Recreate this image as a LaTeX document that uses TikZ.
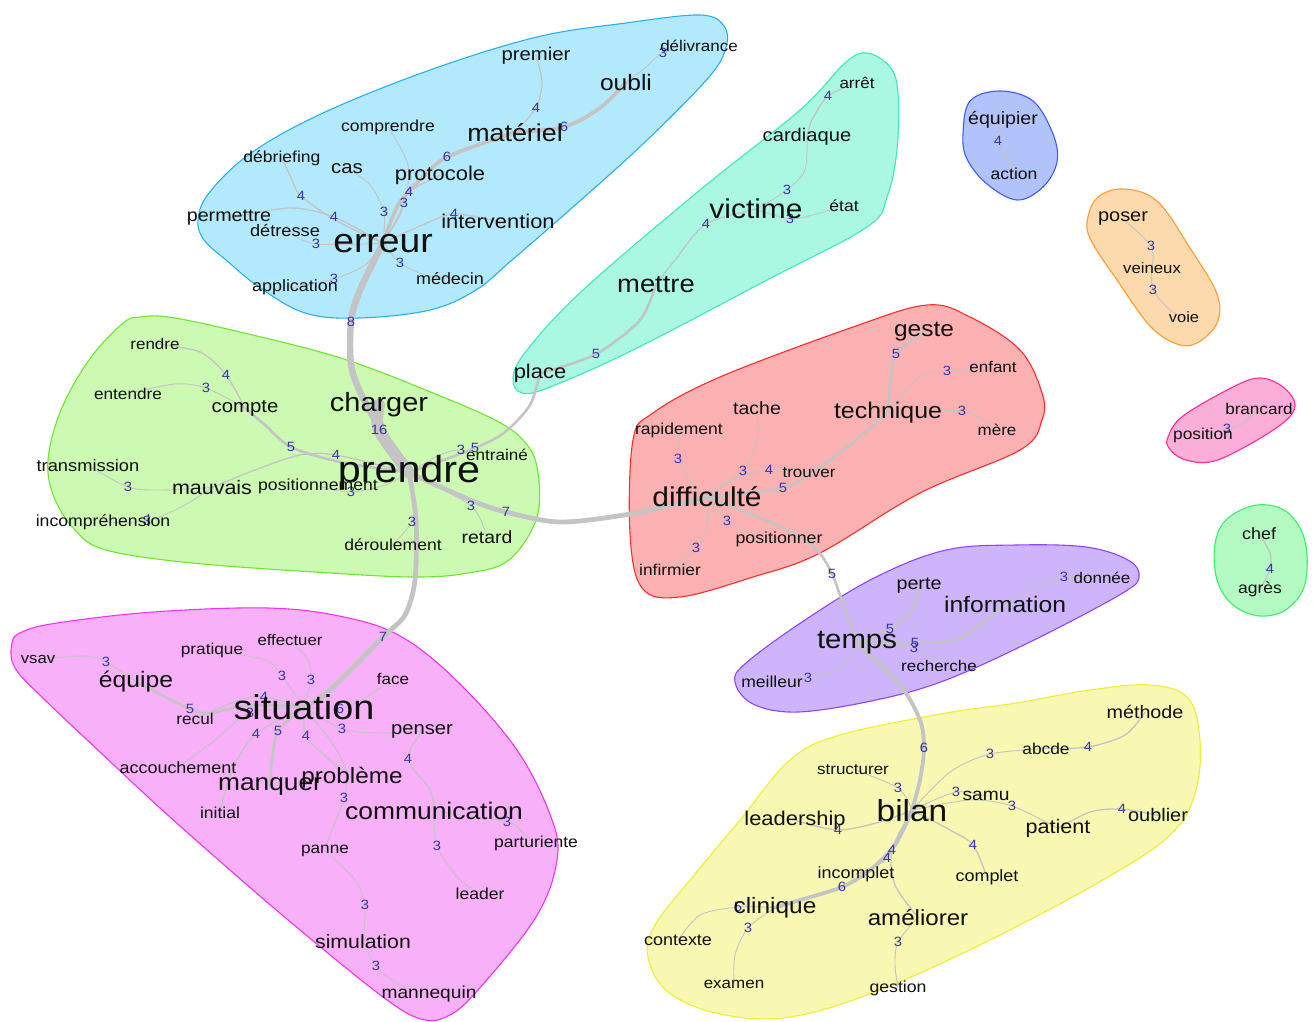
\documentclass[tikz,border=0pt]{standalone}
\usepackage{fontspec}
\newfontfamily\wfont[FakeStretch=1.1]{Liberation Sans}
\definecolor{txt}{HTML}{101010}
\definecolor{numblue}{HTML}{3535A5}
\definecolor{edgegray}{HTML}{C4C4C4}
\definecolor{bluef}{HTML}{B3E9FC}\definecolor{bluel}{HTML}{29AEF0}
\definecolor{tealf}{HTML}{ABF8E2}\definecolor{teall}{HTML}{3CE8C0}
\definecolor{greenf}{HTML}{CDFAB3}\definecolor{greenl}{HTML}{6CE62E}
\definecolor{redf}{HTML}{FBB1B1}\definecolor{redl}{HTML}{FF2B2B}
\definecolor{purpf}{HTML}{CDB4FB}\definecolor{purpl}{HTML}{8C45FF}
\definecolor{yelf}{HTML}{F8F8B2}\definecolor{yell}{HTML}{EEEE33}
\definecolor{magf}{HTML}{F8B0F9}\definecolor{magl}{HTML}{EE33EE}
\definecolor{eqf}{HTML}{B2C2FB}\definecolor{eql}{HTML}{3B5BFF}
\definecolor{oraf}{HTML}{FCDAAE}\definecolor{oral}{HTML}{FF9C2B}
\definecolor{pinkf}{HTML}{FBAFD8}\definecolor{pinkl}{HTML}{FF2A96}
\definecolor{cheff}{HTML}{B3FBC3}\definecolor{chefl}{HTML}{3AEE66}
\pgfdeclarelayer{hulls}\pgfdeclarelayer{edges}
\pgfsetlayers{hulls,edges,main}
\begin{document}
\begin{tikzpicture}[x=1bp,y=-1bp,
  w/.style={font=\wfont\fontsize{#1}{#1}\selectfont, inner sep=0pt, anchor=base, yshift={-0.33*#1}, text=txt},
  num/.style={font=\wfont\fontsize{13.5}{13.5}\selectfont, inner sep=0pt, text=numblue},
  lnk/.style={draw=edgegray, line width=#1, line cap=round, line join=round},
  hull/.style 2 args={fill=#1, draw=#2, line width=1.1}]
\useasboundingbox (0,0) rectangle (1314,1021);

% ---------------- words ----------------
% blue cluster
\node[w=18.5] (premier) at (536,54) {premier};
\node[w=15.5] (delivrance) at (699,46) {délivrance};
\node[w=22.4] (oubli) at (626,83) {oubli};
\node[w=24.5] (materiel) at (515,133) {matériel};
\node[w=16] (comprendre) at (388,126) {comprendre};
\node[w=16] (debriefing) at (282,157) {débriefing};
\node[w=18.6] (cas) at (347,167) {cas};
\node[w=20] (protocole) at (440,174) {protocole};
\node[w=18] (permettre) at (229,216) {permettre};
\node[w=20] (intervention) at (498,222) {intervention};
\node[w=16.6] (detresse) at (285,231) {détresse};
\node[w=34] (erreur) at (383,241) {erreur};
\node[w=16.4] (medecin) at (450,279) {médecin};
\node[w=16.4] (application) at (295,286) {application};
% green cluster
\node[w=15.5] (rendre) at (155,344) {rendre};
\node[w=15.7] (entendre) at (128,394) {entendre};
\node[w=18.6] (compte) at (245,406) {compte};
\node[w=26.4] (charger) at (379,403) {charger};
\node[w=16.7] (transmission) at (88,466) {transmission};
\node[w=19.6] (mauvais) at (212,488) {mauvais};
\node[w=16.1] (positionnement) at (318,485) {positionnement};
\node[w=37.7] (prendre) at (409,470) {prendre};
\node[w=15.6] (entraine) at (497,455) {entrainé};
\node[w=16.1] (incomprehension) at (103,521) {incompréhension};
\node[w=17.7] (retard) at (487,538) {retard};
\node[w=16] (deroulement) at (393,545) {déroulement};
% teal cluster
\node[w=15.5] (arret) at (857,83) {arrêt};
\node[w=18.4] (cardiaque) at (807,135) {cardiaque};
\node[w=27.3] (victime) at (756,210) {victime};
\node[w=16] (etat) at (844,206) {état};
\node[w=25] (mettre) at (656,284) {mettre};
\node[w=20] (place) at (540,372) {place};
% red cluster
\node[w=22.3] (geste) at (924,329) {geste};
\node[w=15.5] (enfant) at (993,367) {enfant};
\node[w=17.8] (tache) at (757,409) {tache};
\node[w=22.7] (technique) at (888,411) {technique};
\node[w=15.5] (mere) at (997,430) {mère};
\node[w=16] (rapidement) at (679,429) {rapidement};
\node[w=15.5] (trouver) at (809,472) {trouver};
\node[w=27.3] (difficulte) at (707,498) {difficulté};
\node[w=16.2] (positionner) at (779,538) {positionner};
\node[w=15.8] (infirmier) at (670,570) {infirmier};
% purple cluster
\node[w=18] (perte) at (919,584) {perte};
\node[w=15.5] (donnee) at (1102,578) {donnée};
\node[w=22.5] (information) at (1005,605) {information};
\node[w=26.8] (temps) at (857,640) {temps};
\node[w=15.5] (recherche) at (939,666) {recherche};
\node[w=16] (meilleur) at (772,682) {meilleur};
% yellow cluster
\node[w=18] (methode) at (1145,713) {méthode};
\node[w=15.8] (abcde) at (1046,749) {abcde};
\node[w=15.5] (structurer) at (853,769) {structurer};
\node[w=17.5] (samu) at (986,795) {samu};
\node[w=30.5] (bilan) at (912,811) {bilan};
\node[w=20] (leadership) at (795,819) {leadership};
\node[w=19.7] (patient) at (1058,827) {patient};
\node[w=18.2] (oublier) at (1158,816) {oublier};
\node[w=16.4] (incomplet) at (856,873) {incomplet};
\node[w=16.4] (complet) at (987,876) {complet};
\node[w=22.3] (clinique) at (775,906) {clinique};
\node[w=22] (ameliorer) at (918,918) {améliorer};
\node[w=16.4] (contexte) at (678,940) {contexte};
\node[w=15.5] (examen) at (734,983) {examen};
\node[w=16.1] (gestion) at (898,987) {gestion};
% magenta cluster
\node[w=15.2] (vsav) at (38,658) {vsav};
\node[w=15.7] (pratique) at (212,649) {pratique};
\node[w=15.3] (effectuer) at (290,640) {effectuer};
\node[w=22.5] (equipe) at (136,680) {équipe};
\node[w=15.5] (face) at (393,679) {face};
\node[w=15.7] (recul) at (195,719) {recul};
\node[w=34.5] (situation) at (304,708) {situation};
\node[w=18.5] (penser) at (422,728) {penser};
\node[w=16.4] (accouchement) at (178,768) {accouchement};
\node[w=24] (manquer) at (270,783) {manquer};
\node[w=22.2] (probleme) at (352,776) {problème};
\node[w=24.1] (communication) at (434,812) {communication};
\node[w=16] (initial) at (220,813) {initial};
\node[w=16] (parturiente) at (536,842) {parturiente};
\node[w=15.7] (panne) at (325,848) {panne};
\node[w=16] (leader) at (480,894) {leader};
\node[w=19.4] (simulation) at (363,942) {simulation};
\node[w=17.5] (mannequin) at (429,993) {mannequin};
% small clusters
\node[w=17.9] (equipier) at (1003,119) {équipier};
\node[w=16] (action) at (1014,174) {action};
\node[w=18.2] (poser) at (1123,216) {poser};
\node[w=15.3] (veineux) at (1152,268) {veineux};
\node[w=15] (voie) at (1184,318) {voie};
\node[w=15.6] (brancard) at (1259,409) {brancard};
\node[w=15.8] (position) at (1203,434) {position};
\node[w=16.4] (chef) at (1259,534) {chef};
\node[w=16] (agres) at (1260,588) {agrès};

% ---------------- cluster hulls ----------------
\begin{pgfonlayer}{hulls}
\draw[hull={bluef}{bluel}] plot[smooth cycle, tension=0.6] coordinates {
 (198,220) (209,193) (251,153) (323,113) (430,70) (537,37) (626,23) (700,15) (724,26) (726,47) (709,77) (644,143) (573,207) (512,260) (476,290) (430,310) (359,318) (305,313) (259,287) (226,260) (204,240)};
\draw[hull={tealf}{teall}] plot[smooth cycle, tension=0.6] coordinates {
 (867,53) (890,67) (898,93) (897,150) (887,197) (867,227) (767,280) (633,350) (550,387) (522,393) (513,378) (527,350) (583,290) (700,190) (800,110) (845,63)};
\draw[hull={greenf}{greenl}] plot[smooth cycle, tension=0.6] coordinates {
 (140,317) (175,318) (261,337) (347,360) (433,393) (495,420) (523,440) (537,467) (537,517) (509,560) (468,573) (416,577) (330,573) (192,563) (106,550) (75,530) (54,497) (48,460) (61,410) (89,360) (122,324)};
\draw[hull={redf}{redl}] plot[smooth cycle, tension=0.6] coordinates {
 (927,305) (970,317) (1020,350) (1042,393) (1042,420) (1020,450) (920,493) (820,553) (753,577) (680,597) (642,588) (630,533) (633,440) (653,413) (720,377) (853,327)};
\draw[hull={purpf}{purpl}] plot[smooth cycle, tension=0.6] coordinates {
 (1128,560) (1139,577) (1121,594) (1034,640) (946,680) (876,700) (798,712) (753,704) (735,682) (746,663) (805,620) (876,577) (946,550) (1016,545) (1086,547)};
\draw[hull={yelf}{yell}] plot[smooth cycle, tension=0.6] coordinates {
 (1150,685) (1188,698) (1200,740) (1196,790) (1175,830) (1120,870) (1000,935) (880,990) (790,1017) (720,1014) (668,992) (648,957) (655,925) (690,880) (740,820) (790,760) (840,735) (946,713) (1016,703) (1090,690)};
\draw[hull={magf}{magl}] plot[smooth cycle, tension=0.6] coordinates {
 (12,643) (22,632) (57,623) (153,612) (268,608) (344,617) (402,637) (459,683) (517,750) (551,817) (557,860) (536,917) (478,990) (448,1016) (421,1019) (383,997) (300,930) (230,870) (160,808) (100,752) (45,700) (15,668)};
\draw[hull={eqf}{eql}] plot[smooth cycle, tension=0.6] coordinates {
 (963,134) (970,101) (1000,91) (1033,101) (1053,134) (1057,162) (1043,187) (1017,200) (987,184) (967,159)};
\draw[hull={oraf}{oral}] plot[smooth cycle, tension=0.6] coordinates {
 (1087,223) (1097,198) (1123,189) (1157,201) (1190,248) (1217,294) (1217,323) (1197,343) (1177,344) (1150,326) (1117,280) (1093,244)};
\draw[hull={pinkf}{pinkl}] plot[smooth cycle, tension=0.6] coordinates {
 (1168,437) (1183,416) (1233,387) (1260,378) (1283,387) (1295,405) (1283,423) (1243,448) (1210,462) (1183,459) (1169,448)};
\draw[hull={cheff}{chefl}] plot[smooth cycle, tension=0.6] coordinates {
 (1215,544) (1227,519) (1257,505) (1287,512) (1305,541) (1305,584) (1287,609) (1260,616) (1233,605) (1217,580)};
\end{pgfonlayer}

% ---------------- connectors and weights ----------------
\begin{pgfonlayer}{edges}
% blue
\draw[lnk=1.3] plot[smooth] coordinates {(premier.center) (542,82) (536,108) (materiel.center)};
\draw[lnk=3.8] plot[smooth] coordinates {(materiel.center) (564,127) (600,108) (oubli.center)};
\draw[lnk=0.9] plot[smooth] coordinates {(delivrance.center) (663,53) (645,68) (oubli.center)};
\draw[lnk=3.8] plot[smooth] coordinates {(erreur.center) (398,205) (420,180) (447,157) (materiel.center)};
\draw[lnk=1.3] plot[smooth] coordinates {(erreur.center) (400,215) (409,192) (protocole.center)};
\draw[lnk=0.9] plot[smooth] coordinates {(erreur.center) (404,203) (408,165) (comprendre.center)};
\draw[lnk=0.9] plot[smooth] coordinates {(erreur.center) (384,212) (370,185) (cas.center)};
\draw[lnk=1.3] plot[smooth] coordinates {(debriefing.center) (292,180) (301,196) (335,220) (erreur.center)};
\draw[lnk=1.3] plot[smooth] coordinates {(permettre.center) (290,208) (334,217) (erreur.center)};
\draw[lnk=0.9] plot[smooth] coordinates {(detresse.center) (316,244) (erreur.center)};
\draw[lnk=1.3] plot[smooth] coordinates {(erreur.center) (420,226) (454,214) (intervention.center)};
\draw[lnk=0.9] plot[smooth] coordinates {(erreur.center) (400,263) (425,275) (medecin.center)};
\draw[lnk=0.9] plot[smooth] coordinates {(erreur.center) (365,265) (334,279) (application.center)};
\draw[lnk=6.5] plot[smooth] coordinates {(erreur.center) (360,290) (351,322) (352,370) (372,415) (prendre.center)};
% green
\draw[lnk=12] plot[smooth] coordinates {(charger.center) (379,430) (prendre.center)};
\draw[lnk=1.3] plot[smooth] coordinates {(rendre.center) (200,352) (226,375) (compte.center)};
\draw[lnk=0.9] plot[smooth] coordinates {(entendre.center) (175,384) (206,388) (compte.center)};
\draw[lnk=2.6] plot[smooth] coordinates {(compte.center) (265,425) (291,447) (340,462) (prendre.center)};
\draw[lnk=1.3] plot[smooth] coordinates {(mauvais.center) (255,470) (300,455) (336,455) (prendre.center)};
\draw[lnk=0.9] plot[smooth] coordinates {(transmission.center) (128,487) (160,490) (mauvais.center)};
\draw[lnk=0.9] plot[smooth] coordinates {(incomprehension.center) (147,521) (185,505) (mauvais.center)};
\draw[lnk=0.9] plot[smooth] coordinates {(positionnement.center) (351,492) (385,485) (prendre.center)};
\draw[lnk=0.9] plot[smooth] coordinates {(prendre.center) (440,455) (461,450) (entraine.center)};
\draw[lnk=2.6] plot[smooth] coordinates {(prendre.center) (475,448) (505,432) (530,405) (place.center)};
\draw[lnk=0.9] plot[smooth] coordinates {(prendre.center) (471,506) (retard.center)};
\draw[lnk=4.8] plot[smooth] coordinates {(prendre.center) (470,500) (506,512) (560,522) (630,514) (difficulte.center)};
\draw[lnk=0.9] plot[smooth] coordinates {(prendre.center) (415,500) (412,522) (deroulement.center)};
\draw[lnk=4.8] plot[smooth] coordinates {(prendre.center) (416,520) (415,580) (405,615) (383,637) (330,690) (situation.center)};
% teal
\draw[lnk=1.3] plot[smooth] coordinates {(arret.center) (828,96) (812,120) (cardiaque.center)};
\draw[lnk=0.9] plot[smooth] coordinates {(cardiaque.center) (805,170) (787,190) (victime.center)};
\draw[lnk=0.9] plot[smooth] coordinates {(victime.center) (790,219) (820,213) (etat.center)};
\draw[lnk=1.3] plot[smooth] coordinates {(victime.center) (706,224) (675,260) (mettre.center)};
\draw[lnk=2.6] plot[smooth] coordinates {(mettre.center) (640,320) (596,354) (place.center)};
% red
\draw[lnk=2.6] plot[smooth] coordinates {(geste.center) (896,354) (890,385) (technique.center)};
\draw[lnk=0.9] plot[smooth] coordinates {(technique.center) (920,377) (947,371) (enfant.center)};
\draw[lnk=0.9] plot[smooth] coordinates {(technique.center) (962,411) (mere.center)};
\draw[lnk=2.6] plot[smooth] coordinates {(technique.center) (850,445) (815,470) (783,488) (difficulte.center)};
\draw[lnk=1.3] plot[smooth] coordinates {(trouver.center) (769,470) (735,478) (difficulte.center)};
\draw[lnk=0.9] plot[smooth] coordinates {(tache.center) (757,440) (743,471) (difficulte.center)};
\draw[lnk=0.9] plot[smooth] coordinates {(rapidement.center) (678,459) (690,480) (difficulte.center)};
\draw[lnk=0.9] plot[smooth] coordinates {(difficulte.center) (727,521) (750,533) (positionner.center)};
\draw[lnk=0.9] plot[smooth] coordinates {(difficulte.center) (708,525) (696,548) (infirmier.center)};
\draw[lnk=2.6] plot[smooth] coordinates {(difficulte.center) (777,525) (815,548) (832,574) (845,610) (temps.center)};
% purple
\draw[lnk=2.6] plot[smooth] coordinates {(temps.center) (890,629) (912,610) (perte.center)};
\draw[lnk=2.6] plot[smooth] coordinates {(temps.center) (915,643) (960,638) (information.center)};
\draw[lnk=0.9] plot[smooth] coordinates {(information.center) (1030,590) (1064,577) (donnee.center)};
\draw[lnk=0.9] plot[smooth] coordinates {(temps.center) (914,648) (recherche.center)};
\draw[lnk=0.9] plot[smooth] coordinates {(temps.center) (840,668) (808,678) (meilleur.center)};
\draw[lnk=3.8] plot[smooth] coordinates {(temps.center) (900,685) (920,720) (924,748) (920,780) (bilan.center)};
% yellow
\draw[lnk=0.9] plot[smooth] coordinates {(bilan.center) (950,772) (990,754) (abcde.center)};
\draw[lnk=1.3] plot[smooth] coordinates {(abcde.center) (1088,747) (1125,735) (methode.center)};
\draw[lnk=0.9] plot[smooth] coordinates {(structurer.center) (898,788) (bilan.center)};
\draw[lnk=0.9] plot[smooth] coordinates {(bilan.center) (956,792) (samu.center)};
\draw[lnk=0.9] plot[smooth] coordinates {(bilan.center) (970,800) (1012,806) (patient.center)};
\draw[lnk=1.3] plot[smooth] coordinates {(patient.center) (1090,812) (1122,809) (oublier.center)};
\draw[lnk=1.3] plot[smooth] coordinates {(bilan.center) (880,822) (838,830) (leadership.center)};
\draw[lnk=1.3] plot[smooth] coordinates {(bilan.center) (950,830) (973,845) (complet.center)};
\draw[lnk=1.3] plot[smooth] coordinates {(bilan.center) (892,850) (895,885) (ameliorer.center)};
\draw[lnk=1.3] plot[smooth] coordinates {(bilan.center) (887,858) (incomplet.center)};
\draw[lnk=3.8] plot[smooth] coordinates {(bilan.center) (895,845) (870,870) (842,887) (800,900) (clinique.center)};
\draw[lnk=0.9] plot[smooth] coordinates {(clinique.center) (738,907) (700,915) (contexte.center)};
\draw[lnk=0.9] plot[smooth] coordinates {(clinique.center) (748,928) (735,955) (examen.center)};
\draw[lnk=0.9] plot[smooth] coordinates {(ameliorer.center) (898,942) (895,965) (gestion.center)};
% magenta
\draw[lnk=0.9] plot[smooth] coordinates {(vsav.center) (85,656) (106,662) (equipe.center)};
\draw[lnk=2.6] plot[smooth] coordinates {(equipe.center) (190,709) (210,713) (250,705) (situation.center)};
\draw[lnk=0.9] plot[smooth] coordinates {(pratique.center) (265,660) (282,676) (situation.center)};
\draw[lnk=0.9] plot[smooth] coordinates {(effectuer.center) (308,660) (311,680) (situation.center)};
\draw[lnk=0.9] plot[smooth] coordinates {(face.center) (365,698) (340,709) (situation.center)};
\draw[lnk=1.3] plot[smooth] coordinates {(situation.center) (264,697) (240,700) (recul.center)};
\draw[lnk=0.9] plot[smooth] coordinates {(situation.center) (250,713) (215,740) (accouchement.center)};
\draw[lnk=1.3] plot[smooth] coordinates {(situation.center) (256,734) (232,770) (initial.center)};
\draw[lnk=2.6] plot[smooth] coordinates {(situation.center) (278,731) (272,760) (manquer.center)};
\draw[lnk=1.3] plot[smooth] coordinates {(situation.center) (306,736) (330,760) (probleme.center)};
\draw[lnk=0.9] plot[smooth] coordinates {(situation.center) (342,729) (380,733) (penser.center)};
\draw[lnk=0.9] plot[smooth] coordinates {(situation.center) (330,740) (346,770) (344,798) (330,835) (panne.center)};
\draw[lnk=1.3] plot[smooth] coordinates {(penser.center) (408,759) (430,790) (communication.center)};
\draw[lnk=0.9] plot[smooth] coordinates {(communication.center) (437,846) (458,878) (leader.center)};
\draw[lnk=0.9] plot[smooth] coordinates {(communication.center) (507,822) (525,835) (parturiente.center)};
\draw[lnk=0.9] plot[smooth] coordinates {(panne.center) (355,880) (365,905) (simulation.center)};
\draw[lnk=0.9] plot[smooth] coordinates {(simulation.center) (376,966) (400,985) (mannequin.center)};
% small clusters
\draw[lnk=1.3] plot[smooth] coordinates {(equipier.center) (998,141) (1010,162) (action.center)};
\draw[lnk=0.9] plot[smooth] coordinates {(poser.center) (1151,246) (veineux.center)};
\draw[lnk=0.9] plot[smooth] coordinates {(veineux.center) (1153,290) (1170,310) (voie.center)};
\draw[lnk=0.9] plot[smooth] coordinates {(brancard.center) (1242,424) (1227,429) (position.center)};
\draw[lnk=1.3] plot[smooth] coordinates {(chef.center) (1270,553) (1270,569) (agres.center)};

% weights
\foreach \x/\y/\t [count=\i] in {
 536/108/4, 564/127/6, 663/53/3, 447/157/6, 409/192/4, 404/203/3, 384/212/3, 301/196/4, 334/217/4, 316/244/3, 454/214/4, 400/263/3, 334/279/3, 351/322/8,
 379/430/16, 226/375/4, 206/388/3, 291/447/5, 336/455/4, 128/487/3, 147/521/3, 351/492/3, 461/450/3, 475/448/5, 471/506/3, 506/512/7, 412/522/3, 383/637/7,
 828/96/4, 787/190/3, 790/219/3, 706/224/4, 596/354/5,
 896/354/5, 947/371/3, 962/411/3, 783/488/5, 769/470/4, 743/471/3, 678/459/3, 727/521/3, 696/548/3, 832/574/5,
 890/629/5, 915/643/5, 1064/577/3, 914/648/3, 808/678/3, 924/748/6,
 990/754/3, 1088/747/4, 898/788/3, 956/792/3, 1012/806/3, 1122/809/4, 838/830/4, 973/845/4, 892/850/4, 887/858/4, 842/887/6, 738/907/5, 748/928/3, 898/942/3,
 106/662/3, 190/709/5, 282/676/3, 311/680/3, 340/709/6, 264/697/4, 250/713/3, 256/734/4, 278/731/5, 306/736/4, 342/729/3, 344/798/3, 408/759/4, 437/846/3, 507/822/3, 365/905/3, 376/966/3,
 998/141/4, 1151/246/3, 1153/290/3, 1227/429/3, 1270/569/4}
 { \node[num] (wt\i) at (\x,\y) {\t}; }
\end{pgfonlayer}
\end{tikzpicture}
\end{document}
